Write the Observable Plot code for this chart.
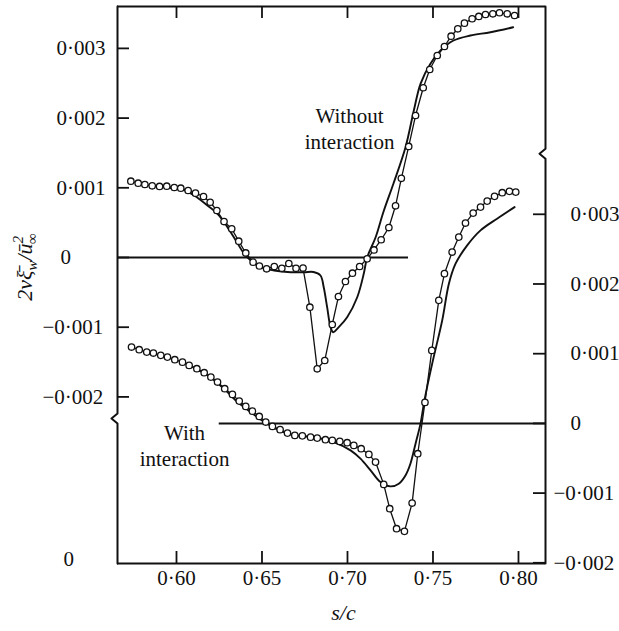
<!DOCTYPE html>
<html><head><meta charset="utf-8">
<script src="https://cdn.jsdelivr.net/npm/d3@7"></script>
<script src="https://cdn.jsdelivr.net/npm/@observablehq/plot@0.6"></script>
<style>body{margin:0;background:#fff}</style>
</head><body><div id="chart"></div>
<script>
// ---- data (values in units of 1e-3) ----
const E3 = 1e-3;
// lower ("with interaction") group is read on the right-hand axis; its zero sits OFFSET below the left zero
const OFFSET = 0.00238;

const upperExpS = [0.5733,0.5776,0.5815,0.5858,0.5901,0.5943,0.5987,0.6025,0.6068,0.6111,0.6158,0.6197,0.6236,0.6278,0.6323,0.6364,0.6405,0.6448,0.6485,0.6527,0.6572,0.6616,0.6657,0.6699,0.6740,0.6780,0.6823,0.6867,0.6911,0.6947,0.6988,0.7029,0.7071,0.7115,0.7155,0.7197,0.7242,0.7281,0.7315,0.7358,0.7398,0.7443,0.7481,0.7525,0.7567,0.7606,0.7645,0.7684,0.7729,0.7768,0.7807,0.7850,0.7889,0.7934,0.7977];
const upperExpV = [1.095,1.066,1.047,1.029,1.019,1.023,1.004,0.994,0.961,0.923,0.875,0.793,0.674,0.516,0.412,0.234,0.065,-0.067,-0.122,-0.162,-0.129,-0.155,-0.086,-0.155,-0.151,-0.713,-1.597,-1.478,-0.961,-0.560,-0.344,-0.225,-0.129,-0.019,0.108,0.255,0.430,0.742,1.136,1.593,2.037,2.435,2.697,2.898,3.027,3.175,3.281,3.362,3.425,3.458,3.486,3.496,3.511,3.496,3.472];

const upperThS = [0.5965,0.6025,0.6104,0.6181,0.6240,0.6298,0.6347,0.6396,0.6435,0.6493,0.6571,0.6668,0.6747,0.6801,0.6842,0.6861,0.6881,0.6901,0.6916,0.6949,0.6998,0.7057,0.7095,0.7115,0.7164,0.7211,0.7269,0.7339,0.7388,0.7427,0.7485,0.7544,0.7620,0.7719,0.7836,0.7969];
const upperThV = [0.997,0.986,0.890,0.746,0.627,0.435,0.244,0.053,-0.043,-0.139,-0.187,-0.211,-0.211,-0.208,-0.258,-0.426,-0.713,-1.000,-1.072,-1.000,-0.857,-0.570,-0.234,0.000,0.287,0.660,1.062,1.578,2.109,2.492,2.779,2.970,3.113,3.185,3.232,3.304];

const lowerExpS = [0.5737,0.5782,0.5826,0.5865,0.5908,0.5947,0.5990,0.6035,0.6074,0.6119,0.6162,0.6201,0.6240,0.6282,0.6327,0.6367,0.6405,0.6444,0.6484,0.6522,0.6561,0.6606,0.6649,0.6692,0.6736,0.6784,0.6823,0.6871,0.6911,0.6955,0.6998,0.7037,0.7080,0.7125,0.7164,0.7212,0.7247,0.7287,0.7333,0.7378,0.7411,0.7453,0.7493,0.7534,0.7567,0.7612,0.7651,0.7690,0.7735,0.7778,0.7817,0.7860,0.7905,0.7947,0.7984];
const lowerExpV = [1.095,1.057,1.023,1.009,0.976,0.951,0.914,0.879,0.832,0.785,0.727,0.664,0.593,0.498,0.416,0.320,0.244,0.176,0.100,0.019,-0.043,-0.090,-0.139,-0.172,-0.179,-0.197,-0.211,-0.234,-0.244,-0.258,-0.277,-0.316,-0.363,-0.445,-0.555,-0.875,-1.224,-1.511,-1.549,-1.143,-0.435,0.301,1.047,1.765,2.148,2.458,2.673,2.874,3.017,3.103,3.189,3.257,3.310,3.329,3.318];

const lowerThS = [0.6082,0.6199,0.6298,0.6357,0.6434,0.6513,0.6591,0.6668,0.6825,0.6920,0.7018,0.7076,0.7135,0.7193,0.7251,0.7300,0.7339,0.7368,0.7398,0.7427,0.7450,0.7497,0.7554,0.7593,0.7632,0.7700,0.7778,0.7875,0.7977];
const lowerThV = [0.825,0.660,0.449,0.306,0.162,0.019,-0.090,-0.158,-0.205,-0.268,-0.387,-0.506,-0.674,-0.842,-0.904,-0.865,-0.746,-0.578,-0.291,-0.004,0.330,0.875,1.478,2.004,2.291,2.554,2.769,2.937,3.103];

// ---- ticks & labels ----
const xTickValues = [0.60,0.65,0.70,0.75,0.80];
const xTickLabels = ["0·60","0·65","0·70","0·75","0·80"];
const leftTickValues = [0.003,0.002,0.001,0,-0.001,-0.002];
const leftTickLabels = ["0·003","0·002","0·001","0","−0·001","−0·002"];
const rightTickValues = [0.003,0.002,0.001,0,-0.001,-0.002];
const rightTickLabels = ["0·003","0·002","0·001","0","−0·001","−0·002"];
const leftLowerLabel = ["0"];
const xLabel = ["s/c"];
const curveLabels = [
  {s: 0.7012, v: 0.001858, text: "Without\ninteraction"},
  {s: 0.6047, v: -0.00269, text: "With\ninteraction"}
];
// zero reference lines: [s start, s end, level in own axis units]
const upperZero = {s1: 0.5655, s2: 0.7357, v: 0};
const lowerZero = {s1: 0.6250, s2: 0.8158, v: 0};
const leftBreak = -0.00231, rightBreak = 0.00149;

// ---- layout ----
const W = 619, H = 631;
const mL = 117, mR = 74, mT = 6, mB = 68;
const X_DOMAIN = [0.5655, 0.8158];
const Y_DOMAIN = [-0.00439, 0.003601];
const plotW = W - mL - mR, plotH = H - mT - mB;
const xPx = (X_DOMAIN[1]-X_DOMAIN[0]) / plotW;
const yPx = (Y_DOMAIN[1]-Y_DOMAIN[0]) / plotH;

const zip = (S, V, off=0) => S.map((s,i) => ({s, v: V[i]*E3 - off}));
const upperExp = zip(upperExpS, upperExpV);
const upperTh = zip(upperThS, upperThV);
const lowerExp = zip(lowerExpS, lowerExpV, OFFSET);
const lowerTh = zip(lowerThS, lowerThV, OFFSET);

const leftTicks = leftTickValues.map((v,i)=>({v, label: leftTickLabels[i]}));
const rightTicks = rightTickValues.map((v,i)=>({v: v - OFFSET, label: rightTickLabels[i], raw: v}));

function axisPath(x0, brk) {
  return [
    {s: x0, v: Y_DOMAIN[1]},
    {s: x0, v: brk + 5*yPx},
    {s: x0 - 6*xPx, v: brk},
    {s: x0, v: brk - 5*yPx},
    {s: x0, v: Y_DOMAIN[0]}
  ];
}

const ink = "#111";
const plot = Plot.plot({
  width: W, height: H,
  marginLeft: mL, marginRight: mR, marginTop: mT, marginBottom: mB,
  x: {domain: X_DOMAIN, axis: null},
  y: {domain: Y_DOMAIN, axis: null},
  style: {fontFamily: "'Liberation Serif', 'DejaVu Serif', serif", fontSize: "21px", background: "#fff", color: ink, overflow: "visible"},
  marks: [
    // frame
    Plot.ruleY([Y_DOMAIN[1], Y_DOMAIN[0]], {stroke: ink, strokeWidth: 2}),
    Plot.line(axisPath(X_DOMAIN[0], leftBreak), {x: "s", y: "v", stroke: ink, strokeWidth: 2}),
    Plot.line(axisPath(X_DOMAIN[1], rightBreak), {x: "s", y: "v", stroke: ink, strokeWidth: 2}),
    // inward ticks
    Plot.tickX(xTickValues, {x: d=>d, insetTop: plotH - 12, stroke: ink, strokeWidth: 1.8}),
    Plot.tickX(xTickValues, {x: d=>d, insetBottom: plotH - 12, stroke: ink, strokeWidth: 1.8}),
    Plot.tickY(leftTicks, {y: "v", insetRight: plotW - 12, stroke: ink, strokeWidth: 1.8}),
    Plot.tickY(rightTicks, {y: "v", insetLeft: plotW - 12, stroke: ink, strokeWidth: 1.8}),
    // zero lines
    Plot.ruleY([upperZero], {y: "v", x1: "s1", x2: "s2", stroke: ink, strokeWidth: 2}),
    Plot.ruleY([lowerZero], {y: d => d.v - OFFSET, x1: "s1", x2: "s2", stroke: ink, strokeWidth: 2}),
    // theory curves
    Plot.line(upperTh, {x: "s", y: "v", curve: "catmull-rom", stroke: ink, strokeWidth: 1.9}),
    Plot.line(lowerTh, {x: "s", y: "v", curve: "catmull-rom", stroke: ink, strokeWidth: 1.9}),
    // experiments
    Plot.line(upperExp, {x: "s", y: "v", stroke: ink, strokeWidth: 1.3}),
    Plot.line(lowerExp, {x: "s", y: "v", stroke: ink, strokeWidth: 1.3}),
    Plot.dot(upperExp, {x: "s", y: "v", r: 3.2, fill: "#fff", stroke: ink, strokeWidth: 1.3}),
    Plot.dot(lowerExp, {x: "s", y: "v", r: 3.2, fill: "#fff", stroke: ink, strokeWidth: 1.3}),
    // tick labels
    Plot.text(xTickValues, {x: d=>d, frameAnchor: "bottom", dy: 21, text: (d,i)=>xTickLabels[i], fill: ink}),
    Plot.text(leftTicks.filter(d=>d.v>0), {y: "v", frameAnchor: "left", dx: -61, textAnchor: "start", text: "label", fill: ink}),
    Plot.text(leftTicks.filter(d=>d.v===0), {y: "v", frameAnchor: "left", dx: -57, textAnchor: "start", text: "label", fill: ink}),
    Plot.text(leftTicks.filter(d=>d.v<0), {y: "v", frameAnchor: "left", dx: -75, textAnchor: "start", text: "label", fill: ink}),
    Plot.text(leftLowerLabel, {frameAnchor: "bottom-left", dx: -54, dy: 2, textAnchor: "start", text: d=>d, fill: ink}),
    Plot.text(rightTicks.filter(d=>d.raw>=0), {y: "v", frameAnchor: "right", dx: 25, textAnchor: "start", text: "label", fill: ink}),
    Plot.text(rightTicks.filter(d=>d.raw<0), {y: "v", frameAnchor: "right", dx: 8, textAnchor: "start", text: "label", fill: ink}),
    Plot.text(xLabel, {frameAnchor: "bottom", dx: 12, dy: 56, text: d=>d, fontStyle: "italic", fontSize: 22, fill: ink}),
    // curve labels
    Plot.text(curveLabels, {x: "s", y: "v", text: "text", lineHeight: 1.2, fontSize: 21, fill: ink})
  ]
});

// y-axis label with sub/superscripts
const svg = d3.select(plot);
const t = svg.append("text")
  .attr("transform", "translate(32,267) rotate(-90)")
  .attr("text-anchor", "middle")
  .attr("font-style", "italic")
  .attr("font-size", 22)
  .attr("fill", ink);
t.append("tspan").text("2νξ̄");
t.append("tspan").attr("dy", 5).attr("font-size", 15).text("w");
t.append("tspan").attr("dy", -5).text("/ū");
t.append("tspan").attr("dy", -9).attr("font-size", 15).text("2");
t.append("tspan").attr("dx", -8).attr("dy", 14).attr("font-size", 15).text("∞");

document.getElementById("chart").appendChild(plot);
</script></body></html>
